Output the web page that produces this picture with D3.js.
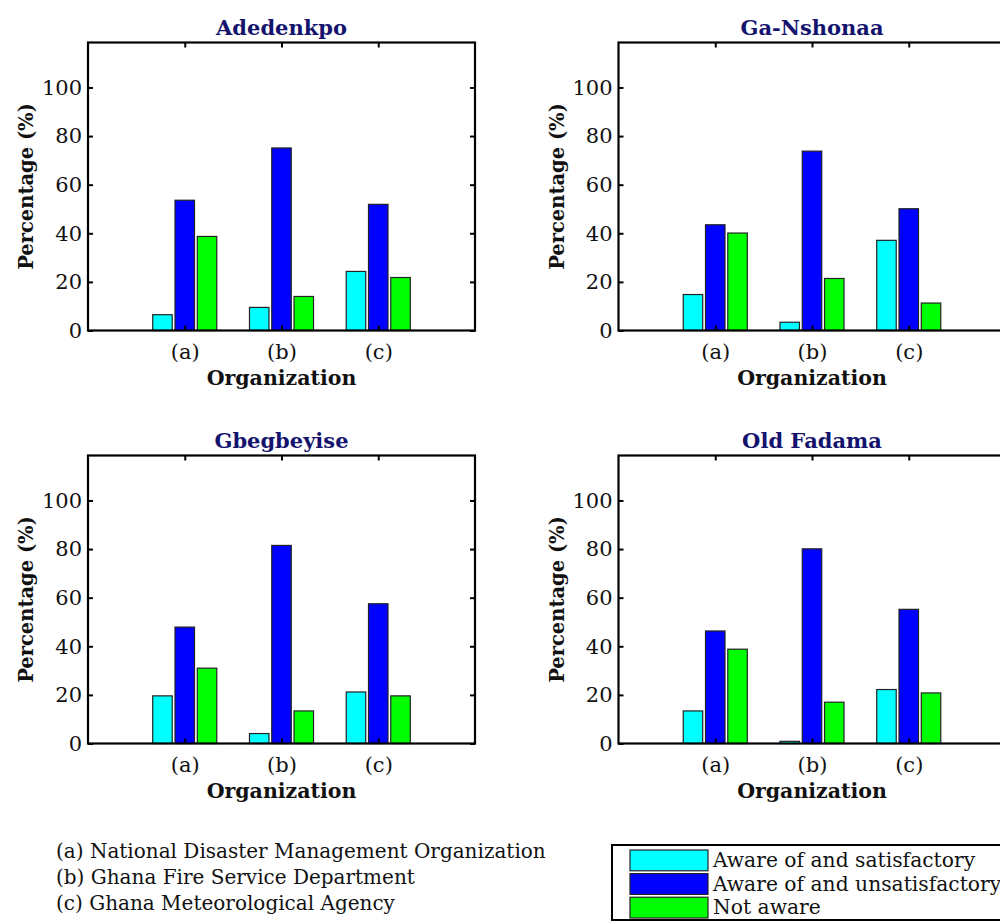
<!DOCTYPE html>
<html>
<head>
<meta charset="utf-8">
<script src="https://cdn.jsdelivr.net/npm/d3@7"></script>
<style>
  html, body { margin: 0; padding: 0; background: #ffffff; }
  svg { display: block; }
  text { font-family: "DejaVu Serif", "Liberation Serif", serif; fill: #111; }
</style>
</head>
<body>
<svg id="chart" width="1000" height="921"></svg>
<script>
// Organizations on the x axis and the three response categories
const categories = ["(a)", "(b)", "(c)"];
const seriesNames = ["Aware of and satisfactory", "Aware of and unsatisfactory", "Not aware"];
const seriesColors = ["#00ffff", "#0000ff", "#00ff00"];
const yTicks = [0, 20, 40, 60, 80, 100];
const orgNotes = [
  "(a) National Disaster Management Organization",
  "(b) Ghana Fire Service Department",
  "(c) Ghana Meteorological Agency"
];

// Percentages per organization: [satisfactory, unsatisfactory, not aware]
const adedenkpo  = [[6.5, 53.6, 38.7], [9.5, 75.1, 14.0], [24.3, 51.9, 21.8]];
const gaNshonaa  = [[14.8, 43.5, 40.1], [3.4, 73.8, 21.4], [37.1, 50.1, 11.3]];
const gbegbeyise = [[19.6, 47.9, 31.0], [4.1, 81.5, 13.4], [21.2, 57.5, 19.6]];
const oldFadama  = [[13.4, 46.3, 38.8], [0.9, 80.1, 17.0], [22.2, 55.2, 20.8]];

const siteNames = ["Adedenkpo", "Ga-Nshonaa", "Gbegbeyise", "Old Fadama"];
const siteData = [adedenkpo, gaNshonaa, gbegbeyise, oldFadama];

const svg = d3.select("#chart");
svg.append("rect").attr("width", 1000).attr("height", 921).attr("fill", "#fff");

// Panel frames (axes boxes)
const W = 387, H = 288;
const frames = [
  { left: 88,    top: 42.5 },
  { left: 618.5, top: 42.5 },
  { left: 88,    top: 455.5 },
  { left: 618.5, top: 455.5 }
];

const yMax = 118.5;
const tickFont = 21;

siteData.forEach((rows, k) => {
  const f = frames[k];
  const g = svg.append("g").attr("transform", `translate(${f.left},${f.top})`);

  const x = d3.scaleLinear().domain([0, 4]).range([0, W]);
  const y = d3.scaleLinear().domain([0, yMax]).range([H, 0]);
  const offset = d3.scaleBand().domain(d3.range(seriesNames.length))
    .range([-0.331, 0.331]).paddingInner(0.125);
  const barW = x(offset.bandwidth()) - x(0);

  // grouped bars
  rows.forEach((vals, i) => {
    g.selectAll(null)
      .data(vals)
      .enter()
      .append("rect")
      .attr("x", (d, s) => x(i + 1 + offset(s)))
      .attr("y", d => y(d))
      .attr("width", barW)
      .attr("height", d => y(0) - y(d))
      .attr("fill", (d, s) => seriesColors[s])
      .attr("stroke", "#222")
      .attr("stroke-width", 1.2);
  });

  // axes with inward ticks on all four sides
  const left = g.append("g")
    .call(d3.axisLeft(y).tickValues(yTicks).tickSize(-5).tickSizeOuter(0).tickPadding(6));
  const right = g.append("g").attr("transform", `translate(${W},0)`)
    .call(d3.axisRight(y).tickValues(yTicks).tickSize(-5).tickSizeOuter(0).tickFormat(""));
  const top = g.append("g")
    .call(d3.axisTop(x).tickValues([1, 2, 3]).tickSize(-5).tickSizeOuter(0).tickFormat(""));
  const bottom = g.append("g").attr("transform", `translate(0,${H})`)
    .call(d3.axisBottom(x).tickValues([1, 2, 3]).tickSize(-5).tickSizeOuter(0)
      .tickPadding(14).tickFormat(d => categories[d - 1]));

  [left, right, top, bottom].forEach(a => {
    a.select(".domain").remove();
    a.selectAll(".tick line").attr("stroke", "#000").attr("stroke-width", 2);
    a.selectAll(".tick text")
      .style("font-family", '"DejaVu Serif", serif')
      .style("font-size", tickFont + "px")
      .attr("fill", "#111");
  });

  // axes box
  g.append("rect")
    .attr("x", 0).attr("y", 0).attr("width", W).attr("height", H)
    .attr("fill", "none").attr("stroke", "#000").attr("stroke-width", 2.2);

  // title
  g.append("text")
    .attr("x", W / 2).attr("y", -7.5)
    .attr("text-anchor", "middle")
    .style("font-size", "21px").style("font-weight", "bold")
    .style("fill", "#14146e")
    .text(siteNames[k]);

  // axis labels
  g.append("text")
    .attr("transform", `translate(-55,${H / 2}) rotate(-90)`)
    .attr("text-anchor", "middle")
    .style("font-size", "19.5px").style("font-weight", "bold")
    .text("Percentage (%)");

  g.append("text")
    .attr("x", W / 2).attr("y", H + 54)
    .attr("text-anchor", "middle")
    .style("font-size", "20.5px").style("font-weight", "bold")
    .text("Organization");
});

// organization key
svg.append("g").selectAll("text")
  .data(orgNotes)
  .enter()
  .append("text")
  .attr("x", 56)
  .attr("y", (d, i) => 858 + i * 26)
  .style("font-size", "20px")
  .text(d => d);

// legend
const lg = svg.append("g");
lg.append("rect")
  .attr("x", 612).attr("y", 845).attr("width", 430).attr("height", 75)
  .attr("fill", "#fff").attr("stroke", "#000").attr("stroke-width", 2);
const rowY = d3.scaleBand().domain(d3.range(seriesNames.length)).range([850, 918]).paddingInner(0.12);
seriesNames.forEach((name, s) => {
  lg.append("rect")
    .attr("x", 630).attr("y", rowY(s))
    .attr("width", 78).attr("height", rowY.bandwidth())
    .attr("fill", seriesColors[s]).attr("stroke", "#222").attr("stroke-width", 1.2);
  lg.append("text")
    .attr("x", 713).attr("y", rowY(s) + rowY.bandwidth() / 2 + 6.5)
    .style("font-size", "20.3px")
    .text(name);
});
</script>
</body>
</html>
